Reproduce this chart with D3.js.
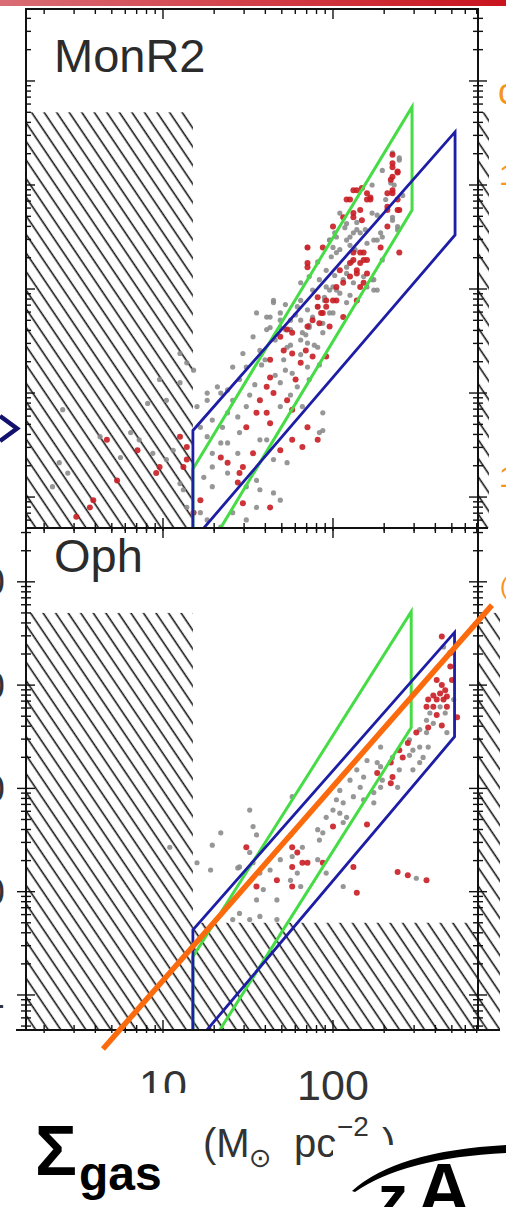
<!DOCTYPE html>
<html>
<head>
<meta charset="utf-8">
<script src="https://cdn.jsdelivr.net/npm/d3@7"></script>
<style>
  html, body { margin: 0; padding: 0; background: #fff; }
  svg { display: block; }
</style>
</head>
<body>
<svg id="fig" width="506" height="1207"></svg>
<script>
// ---- axes -----------------------------------------------------------
const gasDomain = [1.564, 712.7];          // Σgas, M⊙ pc^-2
const monr2YsoDomain = [0.504, 49200];     // Σ_YSO, pc^-2
const ophYsoDomain = [0.458, 33200];
const gasTickLabels = [[10, "10"], [100, "100"]];
const ysoTickLabels = [[1, "1"], [10, "10"], [100, "100"], [1000, "1000"], [10000, "10000"]];

// ---- excluded (hatched) zones ----------------------------------------
const gasLimit = 15;
const ysoCeiling = 5000;
const ophYsoFloor = 5;

// ---- model bands, vertices as [log Σgas, log Σ_YSO] -------------------
const monr2Green = [[1.176, 0.27], [2.465, 3.75], [2.465, 2.76], [1.176, -0.74]];
const monr2Blue  = [[1.176, 0.64], [2.718, 3.51], [2.718, 2.52], [1.176, -0.42]];
const ophGreen   = [[1.176, 0.37], [2.46, 3.71], [2.46, 2.59], [1.176, -0.75]];
const ophBlue    = [[1.176, 0.63], [2.715, 3.51], [2.715, 2.50], [1.176, -0.50]];
// power-law fit overplotted on Oph
const ophFit = [[0.647, -0.523], [2.935, 3.775]];

// ---- YSO surface densities, [log Σgas, log Σ_YSO] ---------------------
const monr2Red = [
  [2.38,3.13],[2.35,3.17],[2.35,3.29],[2.34,3.05],[2.32,2.92],[2.35,2.92],[2.38,2.86],[2.39,2.76],[2.32,2.76],[2.32,2.60],[2.39,2.35],
  [2.12,2.95],[2.17,2.97],[2.22,2.88],[2.20,2.86],[2.08,2.86],[2.16,2.76],[2.12,2.73],[2.17,2.66],[2.00,2.60],[2.06,2.69],
  [1.94,2.40],[1.85,2.40],[2.28,2.40],[2.12,2.35],[2.18,2.35],[2.20,2.28],[2.16,2.25],[2.10,2.25],[2.04,2.18],[2.14,2.15],[2.20,2.15],[2.18,2.06],[2.06,2.06],
  [1.85,2.25],[1.91,1.92],[1.96,1.89],[2.02,1.89],[2.14,1.89],[1.91,1.83],[1.94,1.77],[2.06,1.73],[1.92,1.67],[1.98,1.64],
  [1.76,1.58],[1.85,1.64],[1.76,1.38],[1.88,1.35],[1.96,1.35],[1.69,1.54],[1.81,1.29],
  [1.63,1.15],[1.61,1.06],[1.65,1.00],[1.57,0.93],[1.55,0.81],[1.61,0.81],[1.63,0.71],[1.73,0.93],[1.76,0.84],[1.85,0.67],[1.76,0.55],[1.82,0.48],[1.91,0.55],[1.69,0.45],
  [1.49,0.67],[1.34,0.38],[1.38,0.33],[1.45,0.23],[1.44,0.14],[1.47,-0.06],[1.63,-0.10],[1.22,-0.03],[1.47,0.29],[1.53,0.42],
  [1.10,0.58],[1.14,0.48],[1.14,0.36],[1.12,0.29],[0.98,0.29],[0.96,0.23],[0.85,0.45],[0.73,0.16],[0.67,0.55],[0.59,-0.03],[0.57,-0.10],[0.49,-0.19],[1.18,-0.15],
  [2.35,3.21],[2.38,3.12],[2.35,3.08],[2.35,2.95],[2.38,2.76],[2.32,2.79],[2.14,2.95],[2.20,2.92],[2.22,2.86],[2.12,2.69],[2.10,2.86],
  [2.16,2.35],[2.18,2.28],[2.12,2.28],[2.14,2.18],[2.10,2.12],[2.16,2.02],[2.02,2.02],[2.00,1.89],[1.96,1.83],[1.93,1.77],[1.88,1.70],
  [1.73,1.61],[1.85,2.21],[1.71,1.41],[1.84,1.41],[1.63,1.32],[1.78,1.13]
];
const monr2Gray = [
  [2.39,3.24],[2.31,2.86],[2.35,2.69],[2.38,2.60],[2.28,2.54],[2.23,3.00],[2.14,2.64],[2.23,2.73],[2.16,2.54],[2.12,2.54],[2.08,2.47],[2.02,2.50],
  [1.99,2.31],[2.20,2.44],[2.24,2.47],[2.08,2.15],[2.23,2.09],[2.12,2.06],[2.00,2.02],[1.96,2.02],[2.24,1.99],[1.86,2.12],[2.08,1.87],[2.00,1.77],
  [1.88,1.73],[1.85,1.80],[1.79,1.83],[1.75,1.70],[1.65,1.87],[1.61,1.73],[1.69,1.77],[1.94,1.58],[1.85,1.48],[1.73,1.44],[1.85,1.25],[1.69,1.70],
  [1.63,1.73],[1.61,1.61],[1.65,1.89],[1.57,1.41],[1.69,1.10],[1.69,0.87],[1.79,1.06],[1.82,0.87],[1.94,0.81],[1.92,0.62],[1.94,0.64],[1.73,0.33],
  [1.65,0.36],[1.61,0.55],[1.45,0.62],[1.44,0.77],[1.38,0.81],[1.35,0.67],[1.29,0.74],[1.41,0.93],[1.49,0.87],[1.38,1.03],[1.32,1.06],[1.26,1.00],
  [1.45,1.13],[1.49,1.25],[1.41,1.25],[1.47,1.38],[1.53,1.54],[1.55,1.77],[1.29,0.42],[1.29,0.29],[1.38,0.23],[1.49,0.10],[1.55,0.16],[1.57,0.07],
  [1.65,0.04],[1.69,-0.03],[1.55,-0.10],[1.41,-0.15],[1.29,0.10],[1.24,0.19],[1.22,-0.15],[1.26,-0.22],[1.34,-0.29],[1.49,-0.22],[1.34,0.52],[1.26,0.58],
  [1.22,0.67],[1.20,0.87],[1.26,0.93],[1.34,1.00],[1.57,0.55],[1.38,0.52],[1.44,0.42],
  [2.04,2.38],[2.10,2.42],[1.96,2.18],[1.92,2.09],[2.02,1.99],[2.10,1.94],[1.88,1.99],[1.81,1.89],[1.75,1.61],[1.81,1.51],[1.91,1.44],[1.71,1.32],[1.76,1.19],
  [2.07,2.59],[1.98,2.47],[2.11,2.26],[2.01,2.13],[2.19,2.57],[2.26,2.71],[2.29,2.28],[1.91,2.26],[1.81,2.06],[1.95,1.89],[1.72,1.61],[1.58,1.27],
  [1.51,0.98],[1.86,1.65],[2.13,2.38],[2.36,3.00],[2.41,2.90],[2.29,3.14],
  [2.35,3.31],[2.39,3.26],[2.34,3.02],[2.35,2.66],[2.29,2.50],[2.26,2.47],[2.38,2.57],[2.08,2.63],[2.04,2.73],[2.01,2.54],[1.98,2.47],[2.10,2.50],
  [2.14,2.57],[1.85,2.40],[2.00,2.40],[2.02,2.35],[2.08,2.21],[2.18,2.12],[2.20,2.02],[2.06,2.09],[2.04,1.96],[1.98,1.99],[1.95,1.92],[1.91,1.83],
  [1.98,1.77],[1.94,1.67],[1.86,1.63],[1.81,1.70],[1.82,1.58],[1.69,1.63],[1.63,1.63],[2.24,2.09],[2.26,1.99],
  [1.72,1.85],[1.78,1.75],[1.84,1.56],[1.89,1.46],[1.75,1.46],[1.66,1.51],[1.81,1.37],[1.92,1.27],[1.72,1.22],[1.60,1.32],[1.66,1.17],[1.86,1.13],
  [1.54,1.08],[1.75,0.98],
  [1.06,0.45],[1.02,0.36],[0.94,0.42],[0.86,0.55],[0.81,0.62],[0.75,0.38],[0.63,0.58],[0.44,0.23],[0.39,0.33],[0.35,0.10],[1.02,0.93],[0.98,1.13],
  [1.10,1.10],[1.14,1.29],[1.10,1.38],[0.91,0.90],[1.10,0.13],[1.12,0.07],[1.14,-0.10],[1.18,1.22],[0.41,0.84]
];
const ophRed = [
  [2.64,3.47],[2.69,3.31],[2.61,3.05],[2.64,3.00],[2.66,2.95],[2.63,2.92],[2.59,2.90],[2.67,2.89],[2.65,2.86],[2.61,2.86],[2.56,2.86],[2.59,2.79],
  [2.67,2.79],[2.55,2.79],[2.61,2.71],[2.69,3.18],[2.70,3.05],[2.73,2.69],[2.64,2.61],[2.56,2.59],[2.49,2.54],[2.44,2.44],[2.39,2.37],[2.41,2.30],
  [2.34,2.25],[2.35,2.11],[2.34,2.05],[2.26,2.15],[2.00,1.63],[1.49,1.43],[1.55,1.05],[1.67,1.11],[1.76,1.43],[1.79,1.38],[1.82,1.28],[1.85,1.28],
  [1.76,1.24],[1.76,1.05],[1.94,1.28],[2.12,1.24],[2.14,0.99],[2.20,1.65],[2.38,1.19],[2.44,1.16],[2.55,1.11]
];
const ophGray = [
  [2.65,3.37],[2.63,2.79],[2.57,2.73],[2.66,2.73],[2.71,2.86],[2.55,2.66],[2.59,2.63],[2.55,2.54],[2.67,2.54],[2.51,2.57],[2.45,2.47],[2.51,2.40],
  [2.56,2.40],[2.47,2.37],[2.45,2.32],[2.53,2.30],[2.51,2.25],[2.47,2.18],[2.39,2.18],[2.35,2.30],[2.28,2.21],[2.26,2.25],[2.29,2.08],[2.38,2.01],
  [2.28,2.01],[2.24,1.96],[2.18,2.11],[2.16,2.01],[2.12,1.92],[2.02,1.89],[2.06,1.86],[2.00,1.79],[2.04,1.76],[1.96,1.72],[1.91,1.60],[1.94,1.57],
  [2.08,1.72],[2.18,1.89],[2.24,1.86],[1.76,1.92],[1.51,1.79],[1.53,1.63],[1.34,1.57],[1.55,1.55],[1.29,1.45],[1.51,1.38],[1.53,1.28],[1.57,1.18],
  [1.59,1.02],[1.55,0.92],[1.51,0.73],[1.57,0.76],[1.45,0.79],[1.41,0.73],[1.67,0.92],[1.67,0.73],[1.63,1.21],[1.69,1.31],[1.76,1.34],[1.82,1.43],
  [1.79,1.18],[1.75,1.11],[1.81,1.05],[1.92,1.50],[1.91,1.31],[1.96,1.18],[2.06,1.67],[2.06,1.05],[1.75,1.55],[2.49,1.13],[1.28,1.21],[1.44,1.23],
  [1.04,1.43],[1.20,1.28],[1.45,1.24],[2.04,1.98],[2.10,2.08],[2.14,2.18],[2.20,2.27],[2.28,2.40]
];

// ---- layout -----------------------------------------------------------
const W = 506, H = 1207;
const frameL = 26, frameR = 478;
const svg = d3.select("#fig");
const defs = svg.append("defs");
const sans = "Liberation Sans, Arial, sans-serif";

svg.append("rect").attr("width", W).attr("height", H).attr("fill", "#fff");

// slide header band
const band = defs.append("linearGradient").attr("id", "band").attr("x1", 0).attr("x2", 1).attr("y1", 0).attr("y2", 0);
band.append("stop").attr("offset", 0).attr("stop-color", "#d96d75");
band.append("stop").attr("offset", 0.55).attr("stop-color", "#d13b44");
band.append("stop").attr("offset", 1).attr("stop-color", "#c8141f");
svg.append("rect").attr("x", 0).attr("y", 0).attr("width", W).attr("height", 6).attr("fill", "url(#band)");

// diagonal hatching
const hatch = defs.append("pattern").attr("id", "hatch")
  .attr("patternUnits", "userSpaceOnUse").attr("width", 10.4).attr("height", 10.4)
  .attr("patternTransform", "rotate(-34)");
hatch.append("line").attr("x1", 5).attr("x2", 5).attr("y1", -1).attr("y2", 12)
  .attr("stroke", "#161616").attr("stroke-width", 1.6);

const x = d3.scaleLog().domain(gasDomain).range([frameL, frameR]);

const panels = [
  { name: "MonR2", top: 9, bottom: 528, dom: monr2YsoDomain, gray: monr2Gray, red: monr2Red,
    green: monr2Green, blue: monr2Blue, floor: null, labelY: 72, leftOut: false, stripR: 489, labels: false },
  { name: "Oph", top: 528, bottom: 1030, dom: ophYsoDomain, gray: ophGray, red: ophRed,
    green: ophGreen, blue: ophBlue, floor: ophYsoFloor, labelY: 572, leftOut: true, stripR: 500, labels: true }
];

function decadeTicks(dom) {
  const out = [];
  const e0 = Math.floor(Math.log10(dom[0])), e1 = Math.ceil(Math.log10(dom[1]));
  for (let e = e0; e <= e1; e++) {
    for (let k = 1; k <= 9; k++) {
      const v = k * Math.pow(10, e);
      if (v >= dom[0] && v <= dom[1]) out.push({ v, major: k === 1 });
    }
  }
  return out;
}

panels.forEach((p, i) => {
  const y = d3.scaleLog().domain(p.dom).range([p.bottom, p.top]);
  p.yScale = y;
  const g = svg.append("g");
  const clipId = "clip" + i;
  defs.append("clipPath").attr("id", clipId).append("rect")
    .attr("x", frameL).attr("y", p.top).attr("width", frameR - frameL).attr("height", p.bottom - p.top);
  const inner = g.append("g").attr("clip-path", `url(#${clipId})`);

  // hatched zones
  inner.append("rect")
    .attr("x", x(gasDomain[0])).attr("y", y(ysoCeiling))
    .attr("width", x(gasLimit) - x(gasDomain[0])).attr("height", p.bottom - y(ysoCeiling))
    .attr("fill", "url(#hatch)");
  if (p.floor) {
    inner.append("rect")
      .attr("x", x(gasLimit)).attr("y", y(p.floor))
      .attr("width", frameR - x(gasLimit)).attr("height", p.bottom - y(p.floor))
      .attr("fill", "url(#hatch)");
  }
  // neighbouring panel's hatched strip
  g.append("rect")
    .attr("x", frameR + 1).attr("y", y(ysoCeiling))
    .attr("width", p.stripR - frameR - 1).attr("height", p.bottom - y(ysoCeiling))
    .attr("fill", "url(#hatch)");

  // YSOs
  inner.append("g").selectAll("circle").data(p.gray).join("circle")
    .attr("cx", d => x(10 ** d[0])).attr("cy", d => y(10 ** d[1]))
    .attr("r", 2.6).attr("fill", "#8c8c8c").attr("fill-opacity", 0.9);
  inner.append("g").selectAll("circle").data(p.red).join("circle")
    .attr("cx", d => x(10 ** d[0])).attr("cy", d => y(10 ** d[1]))
    .attr("r", 3).attr("fill", "#c81d22").attr("fill-opacity", 0.9);

  // model bands
  const poly = d3.line().x(d => x(10 ** d[0])).y(d => y(10 ** d[1])).curve(d3.curveLinearClosed);
  inner.append("path").attr("d", poly(p.green)).attr("fill", "none")
    .attr("stroke", "#46dc46").attr("stroke-width", 3).attr("stroke-linejoin", "miter");
  inner.append("path").attr("d", poly(p.blue)).attr("fill", "none")
    .attr("stroke", "#1d1da6").attr("stroke-width", 2.8).attr("stroke-linejoin", "miter");

  // frame
  g.append("rect").attr("x", frameL).attr("y", p.top).attr("width", frameR - frameL).attr("height", p.bottom - p.top)
    .attr("fill", "none").attr("stroke", "#111").attr("stroke-width", 2);

  // ticks
  const tk = g.append("g").attr("stroke", "#111").attr("stroke-width", 1.4);
  decadeTicks(gasDomain).forEach(t => {
    const px = x(t.v), L = t.major ? 10 : 5;
    tk.append("line").attr("x1", px).attr("x2", px).attr("y1", p.top).attr("y2", p.top + L);
    tk.append("line").attr("x1", px).attr("x2", px).attr("y1", p.bottom - L).attr("y2", p.bottom + 3);
  });
  decadeTicks(p.dom).forEach(t => {
    const py = y(t.v), L = t.major ? 9 : 5;
    tk.append("line").attr("x1", frameL - (p.leftOut ? L : 0)).attr("x2", frameL + L).attr("y1", py).attr("y2", py);
    tk.append("line").attr("x1", frameR - L).attr("x2", frameR + L).attr("y1", py).attr("y2", py);
  });

  if (p.labels) {
    g.append("g").selectAll("text").data(ysoTickLabels).join("text")
      .attr("x", 5).attr("y", d => y(d[0]) + 13.5)
      .attr("text-anchor", "end").attr("font-family", sans)
      .attr("font-size", 38).attr("fill", "#333").text(d => d[1]);
  }

  // cloud name
  g.append("text").attr("x", 54).attr("y", p.labelY)
    .attr("font-family", sans).attr("font-size", 47)
    .attr("fill", "#2b2b2b").text(p.name);
});

// axis lines reaching into the neighbouring panel
svg.append("line").attr("x1", frameL).attr("x2", 488).attr("y1", 528).attr("y2", 528)
  .attr("stroke", "#111").attr("stroke-width", 2);
svg.append("line").attr("x1", 16).attr("x2", 500).attr("y1", 1030).attr("y2", 1030)
  .attr("stroke", "#111").attr("stroke-width", 2);

// fit line over Oph
const oph = panels[1];
svg.append("path")
  .attr("d", d3.line().x(d => x(10 ** d[0])).y(d => oph.yScale(10 ** d[1]))(ophFit))
  .attr("stroke", "#fc6a0e").attr("stroke-width", 5.5).attr("fill", "none");

// x tick labels
svg.append("g").selectAll("text").data(gasTickLabels).join("text")
  .attr("x", d => x(d[0])).attr("y", 1100).attr("text-anchor", "middle")
  .attr("font-family", sans).attr("font-size", 43)
  .attr("fill", "#333").text(d => d[1]);

// units
const unit = svg.append("text").attr("font-family", sans).attr("fill", "#333");
unit.append("tspan").attr("x", 203).attr("y", 1157).attr("font-size", 40).text("(M");
unit.append("tspan").attr("x", 249).attr("y", 1167).attr("font-size", 27)
  .attr("font-family", "DejaVu Sans, sans-serif").text("⊙");
unit.append("tspan").attr("x", 294).attr("y", 1157).attr("font-size", 40).text("pc");
unit.append("tspan").attr("x", 337).attr("y", 1136).attr("font-size", 28).text("−2");
unit.append("tspan").attr("x", 382).attr("y", 1157).attr("font-size", 40).text(")");

// slide overlays
svg.append("rect").attr("x", 0).attr("y", 1093).attr("width", 188).attr("height", H - 1093).attr("fill", "#fff");
svg.append("rect").attr("x", 333).attr("y", 1145).attr("width", W - 333).attr("height", H - 1145).attr("fill", "#fff");

const sig = svg.append("text").attr("font-family", sans)
  .attr("font-weight", "bold").attr("fill", "#000");
sig.append("tspan").attr("x", 35).attr("y", 1175).attr("font-size", 70).text("Σ");
sig.append("tspan").attr("x", 79).attr("y", 1190).attr("font-size", 48).text("gas");

// logo
svg.append("path")
  .attr("d", "M352,1191 Q396,1151 506,1145 L506,1153 Q404,1158 355,1192 Z")
  .attr("fill", "#000");
svg.append("text").attr("x", 378).attr("y", 1217).attr("font-family", sans)
  .attr("font-weight", "bold").attr("font-size", 60).attr("fill", "#000").text("z");
svg.append("text").attr("x", 418).attr("y", 1214).attr("font-family", sans)
  .attr("font-weight", "bold").attr("font-size", 72).attr("fill", "#000").text("A");

// slide navigation chevron
svg.append("path").attr("d", "M0,416 L17,428.5 L0,441")
  .attr("fill", "none").attr("stroke", "#12126e").attr("stroke-width", 4.5);

// neighbouring slide text
const side = svg.append("g").attr("font-family", sans).attr("fill", "#f7941d");
side.append("text").attr("x", 498).attr("y", 104).attr("font-size", 36).text("c");
side.append("text").attr("x", 499).attr("y", 185).attr("font-size", 30).text("1");
side.append("text").attr("x", 499).attr("y", 487).attr("font-size", 30).text("1");
side.append("text").attr("x", 500).attr("y", 594).attr("font-size", 24).text("(");
</script>
</body>
</html>
